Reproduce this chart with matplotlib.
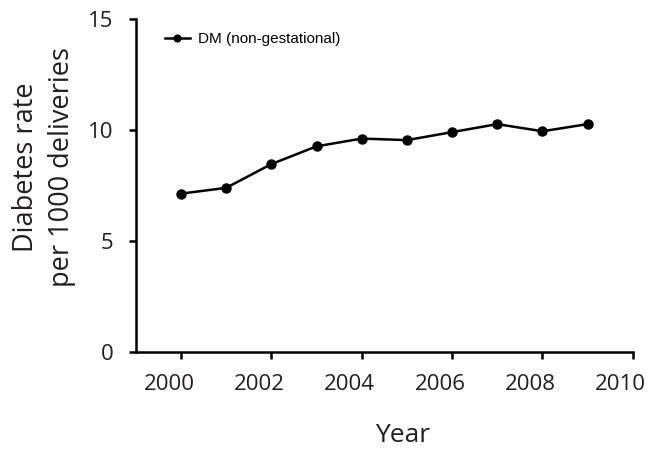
import matplotlib
matplotlib.use("Agg")
import matplotlib.pyplot as plt
from matplotlib.transforms import ScaledTranslation

years = [2000, 2001, 2002, 2003, 2004, 2005, 2006, 2007, 2008, 2009]
dm_rate = [7.14, 7.40, 8.47, 9.27, 9.62, 9.55, 9.91, 10.27, 9.95, 10.27]
xticks = [2000, 2002, 2004, 2006, 2008, 2010]
yticks = [0, 5, 10, 15]

fig = plt.figure(figsize=(6.53, 4.55), dpi=100)
ax = fig.add_axes([0.208, 0.226, 0.761, 0.732])

ax.plot(years, dm_rate, color="black", lw=1.8, marker="o", ms=6.5,
        label="DM (non-gestational)")

ax.set_xlim(1999, 2010)
ax.set_ylim(0, 15)
ax.set_xticks(xticks)
ax.set_yticks(yticks)
for s in ["top", "right"]:
    ax.spines[s].set_visible(False)
for s in ["left", "bottom"]:
    ax.spines[s].set_linewidth(1.8)
ax.tick_params(direction="out", length=5, width=1.8, labelsize=16, pad=11,
               labelcolor="#231f20")
for lab in ax.get_xticklabels() + ax.get_yticklabels():
    lab.set_family("Open Sans")
shift = ScaledTranslation(-12 / 100, 0, fig.dpi_scale_trans)
for lab in ax.get_xticklabels():
    lab.set_transform(lab.get_transform() + shift)

ax.set_xlabel("Year", fontsize=19, family="Open Sans", color="#231f20")
ax.xaxis.set_label_coords(0.536, -0.213)
ax.set_ylabel("Diabetes rate\nper 1000 deliveries", fontsize=19.5,
              family="Open Sans", linespacing=1.35, color="#231f20")
ax.yaxis.set_label_coords(-0.121, 0.556)

leg = ax.legend(loc="center left", frameon=False,
                prop={"family": "Liberation Sans", "size": 11},
                handlelength=1.65, handletextpad=0.5, borderaxespad=0,
                borderpad=0, markerscale=0.75,
                bbox_to_anchor=(0.0584, 0.940))

fig.savefig("out.png", dpi=100)
